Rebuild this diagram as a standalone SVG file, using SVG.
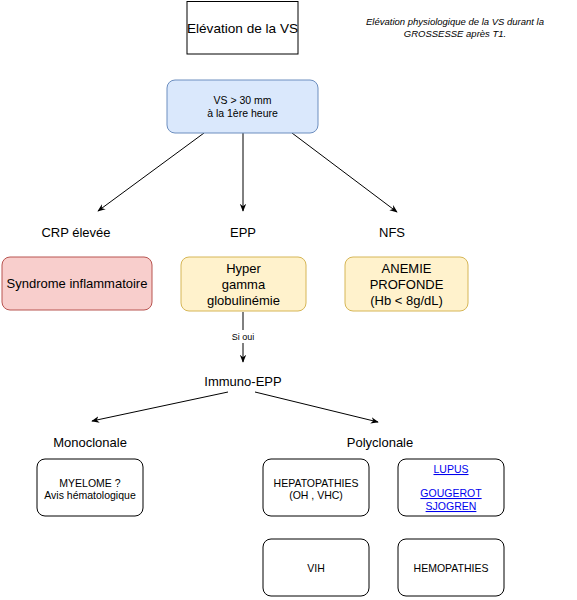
<svg xmlns="http://www.w3.org/2000/svg" width="577" height="600" viewBox="0 0 577 600">
<style>
text{font-family:"Liberation Sans",Arial,sans-serif;fill:#000;text-anchor:middle}
.n{fill:#fff;stroke:#000;stroke-width:1}
.c{stroke:#000;stroke-width:1;fill:none;marker-end:url(#a)}
.lk{fill:#0000ee;text-decoration:underline}
</style>
<defs>
<marker id="a" viewBox="0 0 10 10" refX="9" refY="5" markerWidth="8" markerHeight="8" orient="auto" markerUnits="userSpaceOnUse">
<path d="M0,1 L10,5 L0,9 L3,5 Z" fill="#000"/>
</marker>
</defs>
<rect width="577" height="600" fill="#fff"/>
<g id="title">
<rect x="187" y="1.5" width="111" height="52.5" fill="#fff" stroke="#000"/>
<text x="242.5" y="32.5" font-size="13.6">Elévation de la VS</text>
</g>
<g id="note" font-size="9.5">
<text x="455" y="25" font-style="italic">Elévation physiologique de la VS durant la</text>
<text x="455" y="37" font-style="italic">GROSSESSE après T1.</text>
</g>
<g id="connectors">
<line class="c" x1="204" y1="133" x2="98" y2="211"/>
<line class="c" x1="243" y1="133" x2="243" y2="211"/>
<line class="c" x1="292" y1="133" x2="397" y2="212"/>
<line class="c" x1="243" y1="312" x2="243" y2="362"/>
<line class="c" x1="228" y1="392" x2="92" y2="421"/>
<line class="c" x1="255" y1="392" x2="378" y2="422"/>
<rect x="227" y="330" width="32" height="13" fill="#fff"/>
<text x="243" y="340" font-size="9">Si oui</text>
</g>
<g id="vs">
<rect x="167" y="80" width="151" height="53" rx="8" fill="#dae8fc" stroke="#6c8ebf"/>
<text x="242.5" y="104" font-size="10.5">VS &gt; 30 mm</text>
<text x="242.5" y="117" font-size="10.5">à la 1ère heure</text>
</g>
<g id="crp"><text x="76" y="237" font-size="13">CRP élevée</text></g>
<g id="epp"><text x="243" y="237" font-size="13">EPP</text></g>
<g id="nfs"><text x="392" y="237" font-size="13">NFS</text></g>
<g id="syndrome">
<rect x="2" y="257" width="150" height="53" rx="8" fill="#f8cecc" stroke="#b85450"/>
<text x="77" y="288" font-size="13">Syndrome inflammatoire</text>
</g>
<g id="hyper">
<rect x="181" y="257" width="125" height="54" rx="8" fill="#fff2cc" stroke="#d6b656"/>
<text x="243.5" y="273" font-size="13">Hyper</text>
<text x="243.5" y="289" font-size="13">gamma</text>
<text x="243.5" y="305" font-size="13">globulinémie</text>
</g>
<g id="anemie">
<rect x="345" y="257" width="123" height="54" rx="8" fill="#fff2cc" stroke="#d6b656"/>
<text x="406.5" y="273" font-size="13">ANEMIE</text>
<text x="406.5" y="289" font-size="13">PROFONDE</text>
<text x="406.5" y="305" font-size="13">(Hb &lt; 8g/dL)</text>
</g>
<g id="immuno"><text x="243" y="386" font-size="13">Immuno-EPP</text></g>
<g id="mono"><text x="90" y="447" font-size="13">Monoclonale</text></g>
<g id="poly"><text x="380" y="447" font-size="13">Polyclonale</text></g>
<g id="myelome">
<rect class="n" x="37" y="459" width="106" height="57" rx="8"/>
<text x="90" y="487" font-size="10.5">MYELOME ?</text>
<text x="90" y="499" font-size="10.5">Avis hématologique</text>
</g>
<g id="hepato">
<rect class="n" x="263" y="459" width="106" height="57" rx="8"/>
<text x="316" y="487" font-size="10.5">HEPATOPATHIES</text>
<text x="316" y="499" font-size="10.5">(OH , VHC)</text>
</g>
<g id="lupus">
<rect class="n" x="398" y="459" width="106" height="57" rx="8"/>
<text class="lk" x="451" y="473" font-size="10.5">LUPUS</text>
<text class="lk" x="451" y="497" font-size="10.5">GOUGEROT</text>
<text class="lk" x="451" y="510" font-size="10.5">SJOGREN</text>
</g>
<g id="vih">
<rect class="n" x="263" y="539" width="106" height="57" rx="8"/>
<text x="316" y="572" font-size="10.5">VIH</text>
</g>
<g id="hemo">
<rect class="n" x="398" y="539" width="106" height="57" rx="8"/>
<text x="451" y="572" font-size="10.5">HEMOPATHIES</text>
</g>
</svg>
